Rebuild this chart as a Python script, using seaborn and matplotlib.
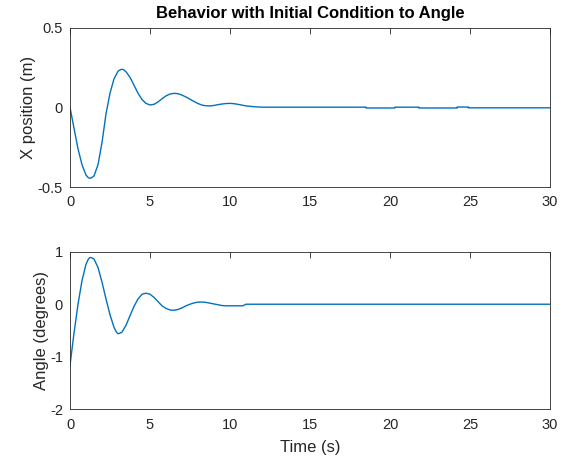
import numpy as np
import pandas as pd
import matplotlib
matplotlib.use("Agg")
import matplotlib.pyplot as plt
import seaborn as sns

# values
t_x = [0, 0.25, 0.5, 0.75, 1.0, 1.15, 1.25, 1.35, 1.5, 1.75, 2.0, 2.25, 2.5, 2.75, 3.0,
       3.15, 3.25, 3.35, 3.5, 3.75, 4.0, 4.25, 4.5, 4.75, 5.0, 5.25, 5.5, 5.75, 6.0,
       6.25, 6.5, 6.75, 7.0, 7.25, 7.5, 7.75, 8.0, 8.25, 8.5, 8.75, 9.0, 9.25, 9.5,
       9.75, 10.0, 10.25, 10.5, 10.75, 11.0, 11.5, 12.0, 18.5, 18.5, 20.3, 20.3,
       21.8, 21.8, 24.2, 24.2, 24.9, 24.9, 30]
x_pos = [0, -0.13, -0.26, -0.36, -0.425, -0.442, -0.445, -0.442, -0.43, -0.36, -0.22,
         -0.04, 0.09, 0.18, 0.228, 0.238, 0.24, 0.238, 0.225, 0.19, 0.14, 0.09, 0.05,
         0.026, 0.016, 0.02, 0.035, 0.055, 0.073, 0.085, 0.089, 0.087, 0.078, 0.066,
         0.052, 0.038, 0.025, 0.015, 0.011, 0.01, 0.013, 0.018, 0.022, 0.025, 0.026,
         0.024, 0.02, 0.015, 0.01, 0.005, 0.002, 0.002, -0.003, -0.003, 0.002, 0.002,
         -0.003, -0.003, 0.003, 0.003, -0.002, -0.002]

t_a = [0, 0.25, 0.5, 0.75, 1.0, 1.15, 1.25, 1.35, 1.5, 1.75, 2.0, 2.25, 2.5, 2.75,
       2.9, 3.0, 3.1, 3.25, 3.5, 3.75, 4.0, 4.25, 4.5, 4.75, 5.0, 5.25, 5.5, 5.75,
       6.0, 6.25, 6.5, 6.75, 7.0, 7.25, 7.5, 7.75, 8.0, 8.25, 8.5, 8.75, 9.0, 9.25,
       9.5, 9.75, 10.0, 10.5, 10.8, 11.0, 30]
angle = [-1.16, -0.55, 0.0, 0.45, 0.76, 0.86, 0.89, 0.885, 0.86, 0.70, 0.42, 0.10,
         -0.20, -0.44, -0.53, -0.56, -0.555, -0.53, -0.40, -0.22, -0.04, 0.10, 0.19,
         0.21, 0.19, 0.13, 0.05, -0.03, -0.08, -0.11, -0.115, -0.10, -0.07, -0.03,
         0.0, 0.025, 0.04, 0.042, 0.035, 0.02, 0.005, -0.01, -0.025, -0.03, -0.03,
         -0.03, -0.03, 0.0, 0.0]

df_x = pd.DataFrame({"t": t_x, "x": x_pos})
df_a = pd.DataFrame({"t": t_a, "a": angle})

sns.set_style("white")
plt.rcParams['font.family'] = ['Liberation Sans', 'DejaVu Sans']
plt.rcParams['axes.unicode_minus'] = False
dark = "#262626"
blue = "#0072BD"

fig = plt.figure(figsize=(5.65, 4.62), dpi=100)
ax1 = fig.add_axes([0.1239, 0.5952, 0.8496, 0.3442])
ax2 = fig.add_axes([0.1239, 0.1141, 0.8496, 0.3411])

sns.lineplot(data=df_x, x="t", y="x", ax=ax1, color=blue, linewidth=1.0,
             sort=False, estimator=None)
sns.lineplot(data=df_a, x="t", y="a", ax=ax2, color=blue, linewidth=1.0,
             sort=False, estimator=None)

ax1.set_xlim(0, 30)
ax1.set_ylim(-0.5, 0.5)
ax1.set_yticks([-0.5, 0, 0.5])
ax1.set_yticklabels(["-0.5", "0", "0.5"])
ax1.set_ylabel("X position (m)", fontsize=12, color=dark, labelpad=1)
ax1.set_xlabel("")
ax1.set_title("Behavior with Initial Condition to Angle", fontsize=12,
              fontweight="bold", color="black", pad=7)

ax2.set_xlim(0, 30)
ax2.set_ylim(-2, 1)
ax2.set_yticks([-2, -1, 0, 1])
ax2.set_yticklabels(["-2", "-1", "0", "1"])
ax2.set_ylabel("Angle (degrees)", fontsize=12, color=dark, labelpad=1)
ax2.set_xlabel("Time (s)", fontsize=12, color=dark, labelpad=6)

for ax in (ax1, ax2):
    ax.set_xticks(range(0, 31, 5))
    ax.tick_params(direction="in", top=True, right=False, length=4, width=0.6,
                   labelsize=10.5, colors=dark)
    ax.tick_params(axis="x", pad=6)
    ax.tick_params(axis="y", pad=5)
    for s in ax.spines.values():
        s.set_color(dark)
        s.set_linewidth(0.6)
        s.set_visible(True)

fig.savefig("out.png", dpi=100)
